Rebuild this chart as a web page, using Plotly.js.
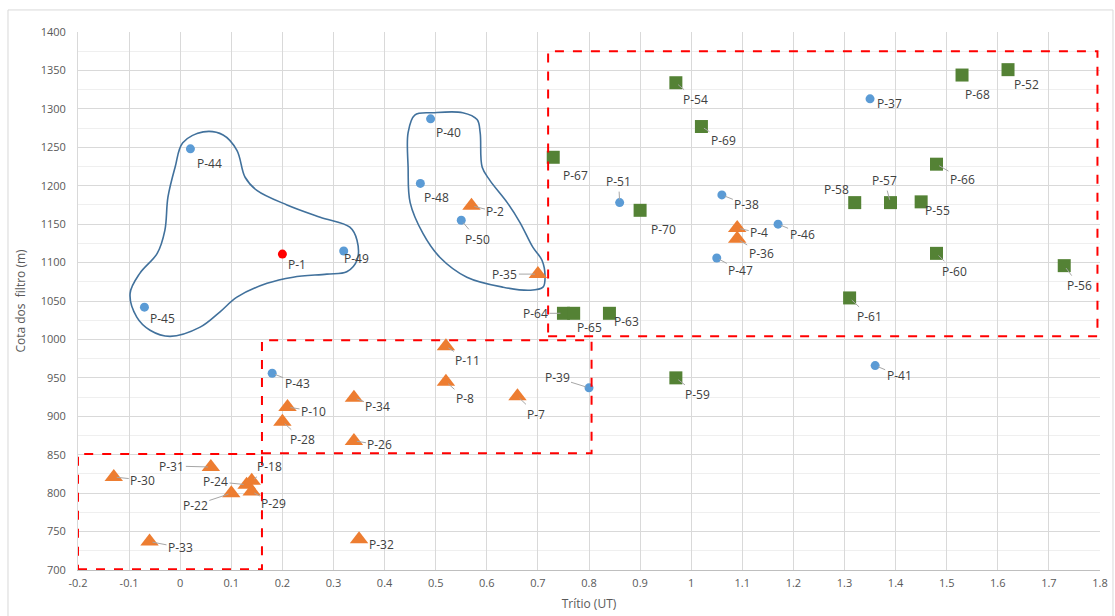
<!DOCTYPE html>
<html>
<head>
<meta charset="utf-8">
<script src="https://cdn.plot.ly/plotly-3.0.1.min.js"></script>
<style>html,body{margin:0;padding:0;background:#fff;}#chart{width:1115px;height:616px;}</style>
</head>
<body>
<div id="chart"></div>
<script>
// ---- Data ----
const blueNames = ["P-44","P-45","P-49","P-40","P-48","P-50","P-51","P-38","P-46","P-47","P-37","P-43","P-39","P-41"];
const blueX =     [0.02, -0.07, 0.32, 0.49, 0.47, 0.55, 0.86, 1.06, 1.17, 1.05, 1.35, 0.18, 0.80, 1.36];
const blueY =     [1248, 1042, 1115, 1287, 1203, 1155, 1178, 1188, 1150, 1106, 1313, 956, 937, 966];

const redNames = ["P-1"];
const redX = [0.20];
const redY = [1111];

const orangeNames = ["P-2","P-35","P-4","P-36","P-11","P-8","P-7","P-34","P-10","P-28","P-26","P-31","P-30","P-24","P-18","P-22","P-29","P-33","P-32"];
const orangeX =     [0.57, 0.70, 1.09, 1.09, 0.52, 0.52, 0.66, 0.34, 0.21, 0.20, 0.34, 0.06, -0.13, 0.13, 0.14, 0.10, 0.14, -0.06, 0.35];
const orangeY =     [1174, 1085, 1145, 1131, 991, 945, 926, 924, 912, 893, 868, 834, 821, 811, 816, 800, 802, 737, 740];

const greenNames = ["P-67","P-54","P-69","P-70","P-64","P-65","P-63","P-68","P-52","P-66","P-58","P-57","P-55","P-60","P-56","P-61","P-59"];
const greenX =     [0.73, 0.97, 1.02, 0.90, 0.75, 0.77, 0.84, 1.53, 1.62, 1.48, 1.32, 1.39, 1.45, 1.48, 1.73, 1.31, 0.97];
const greenY =     [1237, 1334, 1277, 1168, 1034, 1034, 1034, 1344, 1351, 1228, 1178, 1178, 1179, 1112, 1096, 1054, 950];

// Hand-drawn group outlines
const blob1X = [0.045,0.084,0.111,0.127,0.150,0.209,0.274,0.332,0.346,0.346,0.326,0.287,0.221,0.170,0.111,0.078,0.039,-0.020,-0.059,-0.085,-0.098,-0.079,-0.045,-0.030,-0.024,-0.010,0.005,0.045];
const blob1Y = [1270,1266,1246,1211,1194,1175,1159,1146,1129,1103,1088,1085,1081,1073,1055,1036,1016,1004,1012,1029,1060,1086,1112,1142,1185,1224,1256,1270];
const blob2X = [0.459,0.495,0.553,0.581,0.587,0.591,0.606,0.640,0.665,0.690,0.708,0.714,0.710,0.685,0.632,0.561,0.508,0.475,0.450,0.446,0.446,0.459];
const blob2Y = [1292,1295,1295,1286,1269,1224,1207,1178,1152,1120,1103,1081,1068,1064,1068,1081,1107,1138,1178,1224,1269,1292];

// Dashed group boxes [x0, x1, y0, y1]
const boxes = [[-0.2, 0.16, 701, 851], [0.16, 0.805, 852, 999], [0.72, 1.795, 1004, 1375]];

const xTicks = [-0.2,-0.1,0,0.1,0.2,0.3,0.4,0.5,0.6,0.7,0.8,0.9,1,1.1,1.2,1.3,1.4,1.5,1.6,1.7,1.8];

// ---- Label placement (pixel offsets of label from point, leader line flag) ----
const labelPos = {
 "P-44":[19,15,0],"P-45":[18,11,0],"P-49":[13,7,0],"P-1":[15,10,0],"P-40":[18,14,0],"P-48":[16,14,0],
 "P-50":[16,19,1],"P-2":[24,6,1],"P-35":[-33,0,1],"P-67":[22,18,1],"P-54":[20,17,1],"P-69":[22,14,1],
 "P-51":[-1,-21,1],"P-70":[23,19,1],"P-38":[25,10,1],"P-4":[22,5,1],"P-36":[24,15,1],"P-46":[24,10,1],
 "P-47":[24,13,1],"P-64":[-28,0,1],"P-65":[16,14,0],"P-63":[17,8,0],"P-37":[19,5,0],"P-68":[15,19,1],
 "P-52":[18,15,0],"P-66":[26,15,1],"P-58":[-18,-13,0],"P-57":[-6,-22,1],"P-55":[16,9,0],"P-60":[18,18,1],
 "P-56":[15,20,1],"P-61":[20,19,1],"P-11":[22,14,1],"P-8":[19,17,1],"P-7":[19,18,1],"P-39":[-32,-10,1],
 "P-59":[22,17,1],"P-41":[24,10,1],"P-43":[25,10,1],"P-10":[26,4,1],"P-34":[24,9,1],"P-28":[20,18,1],
 "P-26":[26,4,1],"P-31":[-39,-1,1],"P-30":[29,3,1],"P-18":[18,-14,1],"P-24":[-31,-3,1],"P-22":[-36,12,1],
 "P-29":[22,12,1],"P-33":[31,6,1],"P-32":[22,5,0]
};

const FONT = "Open Sans, Liberation Sans, sans-serif";

function markerTrace(x, y, names, symbol, color, size) {
  return {type:'scatter', mode:'markers', x:x, y:y, text:names, hoverinfo:'text',
    marker:{symbol:symbol, color:color, size:size, line:{width:0}}, showlegend:false, cliponaxis:false};
}

const traces = [
  {type:'scatter', mode:'lines', x:blob1X, y:blob1Y, line:{color:'#41719C', width:1.6, shape:'spline', smoothing:1}, hoverinfo:'skip', showlegend:false},
  {type:'scatter', mode:'lines', x:blob2X, y:blob2Y, line:{color:'#41719C', width:1.6, shape:'spline', smoothing:1}, hoverinfo:'skip', showlegend:false},
  markerTrace(blueX, blueY, blueNames, 'circle', '#5B9BD5', 9),
  markerTrace(redX, redY, redNames, 'circle', '#FF0000', 9),
  markerTrace(orangeX, orangeY, orangeNames, 'triangle-up', '#ED7D31', 16),
  markerTrace(greenX, greenY, greenNames, 'square', '#548235', 13)
];

const annotations = [];
function addLabels(xs, ys, names) {
  names.forEach((n, i) => {
    const p = labelPos[n] || [18, 10, 0];
    annotations.push({x:xs[i], y:ys[i], xref:'x', yref:'y', text:n, showarrow:true,
      ax:p[0], ay:p[1], arrowhead:0, arrowwidth:1,
      arrowcolor: p[2] ? '#A6A6A6' : 'rgba(0,0,0,0)', standoff:3,
      font:{family:FONT, size:12, color:'#404040'}});
  });
}
addLabels(blueX, blueY, blueNames);
addLabels(redX, redY, redNames);
addLabels(orangeX, orangeY, orangeNames);
addLabels(greenX, greenY, greenNames);

const shapes = boxes.map(b => ({type:'rect', xref:'x', yref:'y', x0:b[0], x1:b[1], y0:b[2], y1:b[3],
  line:{color:'#FF0000', width:2, dash:'dash'}, fillcolor:'rgba(0,0,0,0)', layer:'above'}));
// outer chart-area frame
shapes.push({type:'rect', xref:'paper', yref:'paper', x0:-0.0685, x1:1.0127, y0:-0.09, y1:1.041,
  line:{color:'#D9D9D9', width:1}, fillcolor:'rgba(0,0,0,0)'});

const layout = {
  width:1115, height:616,
  margin:{l:78, r:15, t:32, b:46},
  paper_bgcolor:'#ffffff', plot_bgcolor:'#ffffff',
  font:{family:FONT, color:'#595959', size:11},
  showlegend:false,
  xaxis:{range:[-0.2,1.8], tickvals:xTicks, ticktext:xTicks.map(String), showgrid:true, gridcolor:'#D9D9D9', gridwidth:1,
    zeroline:false, showline:true, linecolor:'#BFBFBF', ticks:'', ticklen:0, ticklabelstandoff:3,
    tickfont:{family:FONT, size:11, color:'#595959'},
    title:{text:'Trítio (UT)', font:{family:FONT, size:12, color:'#595959'}, standoff:10}},
  yaxis:{range:[700,1400], dtick:50, showgrid:true, gridcolor:'#D9D9D9', gridwidth:1,
    minor:{dtick:25, showgrid:true, gridcolor:'#EFEFEF', ticks:''},
    zeroline:false, showline:true, linecolor:'#D9D9D9', ticks:'', ticklabelstandoff:9,
    tickfont:{family:FONT, size:11, color:'#595959'},
    title:{text:'Cota dos  filtro (m)', font:{family:FONT, size:12, color:'#595959'}, standoff:12}},
  annotations:annotations,
  shapes:shapes
};

Plotly.newPlot('chart', traces, layout, {displayModeBar:false, staticPlot:true});
</script>
</body>
</html>
